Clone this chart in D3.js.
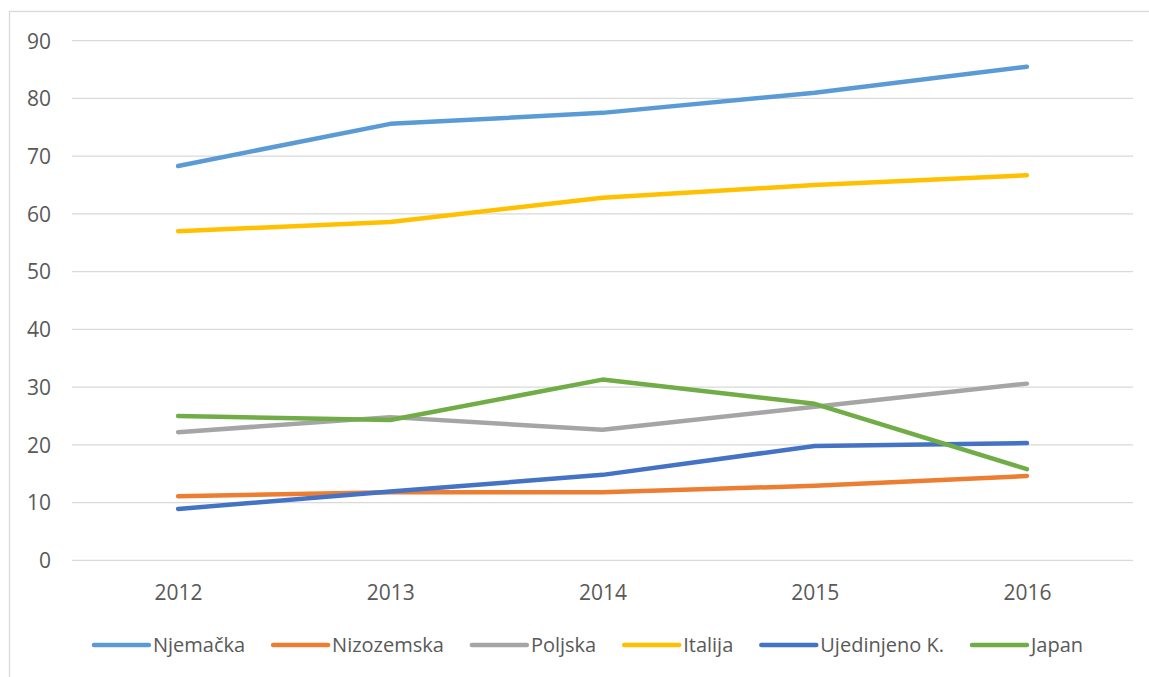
<!DOCTYPE html>
<html>
<head>
<meta charset="utf-8">
<script src="https://cdn.jsdelivr.net/npm/d3@7"></script>
<style>
  body { margin: 0; background: #fff; }
  text { font-family: "Open Sans", "Noto Sans", sans-serif; fill: #595959; }
</style>
</head>
<body>
<div id="chart"></div>
<script>
// chart data
const years = ["2012", "2013", "2014", "2015", "2016"];
const seriesNames = ["Njemačka", "Nizozemska", "Poljska", "Italija", "Ujedinjeno K.", "Japan"];
const seriesColors = ["#5B9BD5", "#ED7D31", "#A5A5A5", "#FFC000", "#4472C4", "#70AD47"];
const njemacka = [68.3, 75.6, 77.5, 81.0, 85.5];
const nizozemska = [11.1, 11.8, 11.8, 12.9, 14.6];
const poljska = [22.2, 24.8, 22.6, 26.6, 30.6];
const italija = [57.0, 58.6, 62.8, 65.0, 66.7];
const ujedinjeno = [8.9, 11.9, 14.8, 19.8, 20.3];
const japan = [25.0, 24.3, 31.3, 27.1, 15.8];
const yTicks = [0, 10, 20, 30, 40, 50, 60, 70, 80, 90];

const seriesValues = [njemacka, nizozemska, poljska, italija, ujedinjeno, japan];

const width = 1149, height = 677;
const margin = {top: 40.7, right: 16, bottom: 116.7, left: 72};

const svg = d3.select("#chart").append("svg")
    .attr("width", width)
    .attr("height", height);

// outer chart border (runs off the right and bottom edge)
svg.append("rect")
    .attr("x", 9.5).attr("y", 11.5)
    .attr("width", width + 10).attr("height", height + 10)
    .attr("fill", "#fff")
    .attr("stroke", "#D9D9D9")
    .attr("stroke-width", 1.3);

const xScale = d3.scalePoint()
    .domain(years)
    .range([margin.left, width - margin.right])
    .padding(0.5);

const yScale = d3.scaleLinear()
    .domain([0, 90])
    .range([height - margin.bottom, margin.top]);

// gridlines
svg.append("g")
    .selectAll("line")
    .data(yTicks)
  .join("line")
    .attr("x1", margin.left)
    .attr("x2", width - margin.right)
    .attr("y1", d => yScale(d))
    .attr("y2", d => yScale(d))
    .attr("stroke", "#D9D9D9")
    .attr("stroke-width", 1.3);

// y axis labels
const yAxis = d3.axisLeft(yScale).tickValues(yTicks).tickSize(0).tickPadding(0);
const yAxisG = svg.append("g")
    .attr("transform", `translate(${51},0)`)
    .call(yAxis);
yAxisG.select(".domain").remove();
yAxisG.selectAll("text")
    .attr("font-size", 21)
    .attr("font-family", null)
    .attr("fill", "#595959")
    .attr("dy", "0.35em");

// x axis labels
const xAxis = d3.axisBottom(xScale).tickSize(0).tickPadding(0);
const xAxisG = svg.append("g")
    .attr("transform", `translate(0,${yScale(0)})`)
    .call(xAxis);
xAxisG.select(".domain").remove();
xAxisG.selectAll("text")
    .attr("font-size", 21)
    .attr("font-family", null)
    .attr("fill", "#595959")
    .attr("dy", null)
    .attr("y", 39.7);

// series lines
const line = d3.line()
    .x((d, i) => xScale(years[i]))
    .y(d => yScale(d));

svg.append("g")
    .selectAll("path")
    .data(seriesValues)
  .join("path")
    .attr("d", d => line(d))
    .attr("fill", "none")
    .attr("stroke", (d, i) => seriesColors[i])
    .attr("stroke-width", 4.5)
    .attr("stroke-linecap", "round")
    .attr("stroke-linejoin", "round");

// legend
const legendY = 645;
const legend = svg.append("g");
const items = legend.selectAll("g")
    .data(seriesNames)
  .join("g");

items.append("line")
    .attr("x1", 0).attr("x2", 55)
    .attr("y1", legendY).attr("y2", legendY)
    .attr("stroke", (d, i) => seriesColors[i])
    .attr("stroke-width", 4.5)
    .attr("stroke-linecap", "round");

items.append("text")
    .attr("x", 59)
    .attr("y", legendY)
    .attr("dy", "0.35em")
    .attr("font-size", 20)
    .text(d => d);

let xPos = 0;
const gap = 28;
items.each(function() {
    const g = d3.select(this);
    const w = 59 + g.select("text").node().getComputedTextLength();
    g.attr("transform", `translate(${xPos},0)`);
    xPos += w + gap;
});
const totalW = xPos - gap;
legend.attr("transform", `translate(${588.5 - totalW / 2},0)`);
</script>
</body>
</html>
